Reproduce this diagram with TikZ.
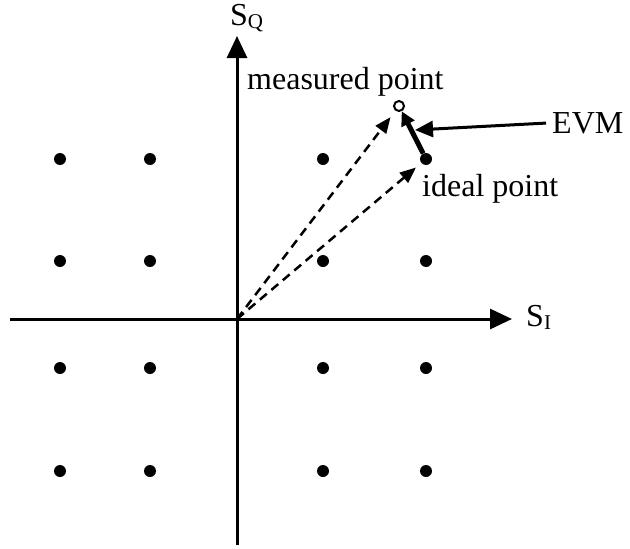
\documentclass[tikz,border=0pt]{standalone}
\usepackage{fontspec}
\setmainfont{Liberation Serif}
\usetikzlibrary{arrows.meta}
\newcommand{\subtext}[1]{\raisebox{-3pt}{\fontsize{21}{21}\selectfont #1}}
\begin{document}
\begin{tikzpicture}[x=1pt,y=-1pt,font=\fontsize{32}{36}\selectfont,
  axis/.style={line width=3pt,-{Triangle[length=22pt,width=20pt]}},
  vec/.style={line width=2.5pt,dash pattern=on 9pt off 6pt,-{Triangle[length=16pt,width=13pt]}},
  dot/.style={circle,fill,inner sep=0pt,minimum size=12pt},
  lbl/.style={anchor=base west,inner sep=0pt}]
  \useasboundingbox (0,0) rectangle (630,549);
  \coordinate (O) at (237,319);
  \coordinate (xstart) at (10,319);
  \coordinate (xend) at (512,319);
  \coordinate (ystart) at (237,545);
  \coordinate (yend) at (237,36);
  \draw[axis] (xstart) -- (xend);
  \draw[axis] (ystart) -- (yend);
  \node[lbl] (si) at (526,326) {S\subtext{I}};
  \node[lbl] (sq) at (230,25) {S\subtext{Q}};
  \foreach \colx in {60,150,323,426}{
    \foreach \rowy in {159,261,368,471}{
      \node[dot] (d-\colx-\rowy) at (\colx,\rowy) {};
    }
  }
  \node[circle,draw,line width=2pt,fill=white,inner sep=0pt,minimum size=10pt] (meas) at (399,106) {};
  \draw[vec,shorten >=8pt] (O) -- (meas);
  \draw[vec,shorten >=7pt] (O) -- (d-426-159);
  \draw[line width=5pt,-{Triangle[length=14pt,width=14pt]}] (d-426-159) -- (meas);
  \node[lbl] (mlabel) at (247,89) {measured point};
  \node[lbl] (ilabel) at (422,196) {ideal point};
  \node[lbl] (evm) at (552,133) {EVM};
  \coordinate (evmtip) at (415,130);
  \draw[line width=3pt,shorten <=6pt,-{Triangle[length=18pt,width=16pt]}] (evm.west) -- (evmtip);
\end{tikzpicture}
\end{document}
